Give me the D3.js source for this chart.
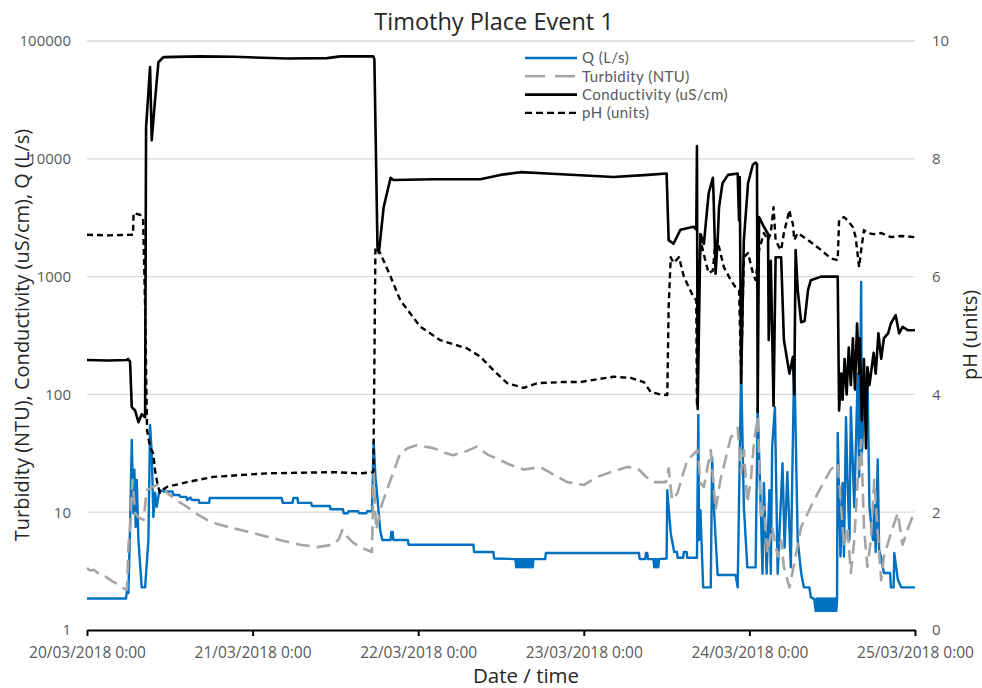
<!DOCTYPE html>
<html><head><meta charset="utf-8">
<script src="https://cdn.jsdelivr.net/npm/d3@7"></script>
<style>body{margin:0;background:#fff}svg text{font-family:"Open Sans",sans-serif}</style>
</head><body><svg id="c" width="982" height="688"></svg>
<script>
// ---------- data ----------
const dayHours = [0, 24, 48, 72, 96, 120];
const dayLabels = ["20/03/2018 0:00","21/03/2018 0:00","22/03/2018 0:00","23/03/2018 0:00","24/03/2018 0:00","25/03/2018 0:00"];
const leftTicks = [1, 10, 100, 1000, 10000, 100000];
const rightTicks = [0, 2, 4, 6, 8, 10];
const seriesNames = ["Q (L/s)", "Turbidity (NTU)", "Conductivity (uS/cm)", "pH (units)"];

// [hours since 20/03/2018 0:00, value]
const qData = [
[0,1.85],[5.66,1.85],[5.8,2.2],[6.0,2.06],[6.24,7.5],[6.49,41],[6.72,9.8],[6.87,23],[7.06,7.5],[7.21,18.8],[7.45,5.8],[7.93,2.3],[8.42,2.3],[8.9,5.8],[9.14,55],[9.38,31.8],[9.62,9.1],[9.87,14.6],[10.1,11.1],[10.5,15.4],[11.1,15],[12.4,15],[12.5,14],[13.4,14],[13.5,13.5],[14.4,13.5],[14.5,12.7],[15.0,13.3],[15.2,12.7],[16.2,12.7],[16.3,12],[17.7,12],[17.8,13.2],[28.2,13.2],[28.4,12],[29.8,12],[29.9,13.2],[30.5,13.2],[30.6,12],[32.5,12],[32.6,11.3],[35.2,11.3],[35.3,10.6],[37.1,10.6],[37.2,9.8],[37.8,9.8],[37.9,10.2],[39.3,10.2],[39.4,9.8],[40.5,9.8],[40.6,10.2],[41.3,10.2],[41.55,40],[41.8,20],[42.1,13],[42.5,7],[42.8,5.8],[44.0,5.8],[44.1,6.8],[44.3,6.8],[44.4,5.8],[46.5,5.8],[46.6,5.3],[56.0,5.3],[56.1,4.6],[58.9,4.6],[59.0,4.05],
[62.1,4.0],[62.2,3.4],[62.35,4.0],[62.5,3.4],[62.65,4.0],[62.8,3.4],[62.95,4.0],[63.1,3.4],[63.25,4.0],[63.4,3.4],[63.55,4.0],[63.7,3.4],[63.85,4.0],[64.0,3.4],[64.15,4.0],[64.3,3.4],[64.45,4.0],[64.6,3.4],[64.7,4.0],
[66.4,4.0],[66.5,4.5],[80.0,4.5],[80.1,4.0],[80.9,4.0],[81.0,4.5],[81.2,4.5],[81.3,4.0],
[82.1,4.0],[82.2,3.4],[82.35,4.0],[82.5,3.4],[82.65,4.0],[82.8,3.4],[82.9,4.0],
[84.0,4.05],[84.1,15.4],[84.6,6.6],[85.1,4.6],[85.5,4.6],[85.6,4.1],[86.0,4.1],[86.4,4.1],[86.5,4.6],[86.9,4.6],[87.0,4.1],[88.4,4.1],[88.6,67],[88.7,5.8],[88.9,10.4],[89.3,2.3],[90.4,2.3],[90.6,29],[90.9,9.85],[91.4,2.93],[94.0,2.93],[94.3,2.3],[94.8,161],[95.2,11],[95.7,3.4],[96.9,3.4],[97.2,78],[97.7,8.6],[97.9,3.0],[98.1,17.7],[98.5,3.0],[98.9,15.4],[99.1,3.0],[99.3,36],[99.7,78],[100.1,3.0],[100.8,26],[101.1,5],[101.5,22],[102.0,3.4],[102.5,208],[103.0,5.8],[103.5,3.05],[103.9,2.3],[104.7,2.3],[104.9,1.9],[105.4,1.83],
[105.6,1.45],[105.75,1.85],[105.9,1.45],[106.05,1.85],[106.2,1.45],[106.35,1.85],[106.5,1.45],[106.65,1.85],[106.8,1.45],[106.95,1.85],[107.1,1.45],[107.25,1.85],[107.4,1.45],[107.55,1.85],[107.7,1.45],[107.85,1.85],[108.0,1.45],[108.15,1.85],[108.3,1.45],[108.45,1.85],[108.6,1.45],[108.7,1.8],
[108.8,47],[109.2,4.2],[109.5,17.7],[109.7,4.2],[110.0,64],[110.2,20],[110.5,5.8],[110.7,78],[111.2,11],[111.7,150],[111.9,20],[112.2,900],[112.3,30],[112.6,78],[113.1,170],[113.4,11],[113.9,5.8],[114.1,11.5],[114.3,4.6],[114.6,28],[114.8,4.8],[115.1,4.1],[115.5,3.05],[116.4,3.05],[116.5,2.3],[116.9,2.3],[117.0,4.5],[117.5,2.7],[118.0,2.3],[120,2.3]
];

const turbData = [
[0,3.35],[0.5,3.2],[1.0,3.25],[1.9,2.93],[2.5,2.9],[3.2,2.7],[3.8,2.56],[4.5,2.45],[5.2,2.27],[5.8,2.2],[6.0,5.1],[6.24,7.5],[6.6,18.8],[6.97,9.8],[7.5,9.0],[8.2,8.6],[8.66,15.4],[9.6,16.4],[10.6,17.7],[11.6,14.6],[13.0,12.6],[14.5,11.1],[16.0,9.6],[17.4,8.6],[19.0,7.9],[21.2,7.3],[23.5,6.8],[26.1,6.2],[28.5,5.7],[30.9,5.3],[33.3,5.05],[35.7,5.3],[36.5,5.9],[37.0,7.06],[37.7,6.2],[38.6,5.5],[39.9,4.96],[41.3,4.6],[41.55,21.5],[41.9,7.06],[42.8,12],[44.0,18.8],[45.4,31.8],[46.5,35],[47.8,37],[50.2,35],[51.8,32],[53.1,30.5],[55.0,33],[56.5,36],[58.0,31],[59.9,27.6],[61.5,25],[63.3,23],[65.7,24.2],[67.5,21],[69.6,18],[72.0,17],[74.0,20],[76.0,22],[78.3,24.2],[79.8,23.6],[81.0,20],[82.2,18],[83.9,18],[84.3,23.6],[84.8,12.7],[85.6,14.6],[86.1,18.8],[87.0,27.6],[88.5,33.7],[88.9,17.7],[89.4,16.4],[90.4,33.7],[91.1,10.4],[91.8,18.8],[93.3,43],[94.3,52],[94.8,21.5],[95.2,33.7],[95.7,12],[96.2,18.8],[96.7,41],[97.2,64],[97.7,8.6],[98.1,11.1],[98.6,4.5],[99.3,7.5],[100.1,4.2],[100.6,5.8],[101.0,3.43],[101.8,2.3],[102.5,3.7],[103.5,7.5],[104.9,11.1],[106.4,16.4],[107.8,23],[108.8,26],[109.3,11.1],[109.7,5.1],[110.2,7.5],[110.7,3.05],[111.2,5.8],[111.7,18.8],[112.2,41],[112.6,7.5],[113.1,3.43],[113.6,5.8],[114.1,18.8],[114.6,6.6],[115.1,2.65],[115.5,4.2],[116.5,6.6],[117.5,9.85],[118.2,5.3],[118.9,7.06],[120,10.4]
];

const condData = [
[0,196],[3.0,194],[5.8,196],[5.95,200],[6.24,190],[6.49,78],[6.97,73],[7.45,58],[7.93,68],[8.42,64],[8.56,18600],[9.14,60000],[9.38,14400],[9.87,32000],[10.35,66000],[11.07,73000],[16.4,74000],[21.2,73500],[29.0,71000],[34.8,71500],[36.7,74000],[41.5,74000],[41.65,70000],[42.1,1780],[42.3,1590],[43.0,3900],[44.0,6900],[44.4,6600],[50.2,6700],[57.0,6700],[59.9,7300],[62.8,7700],[66.7,7500],[76.3,7000],[81.3,7300],[84.0,7500],[84.3,2040],[85.0,1900],[86.0,2500],[87.9,2650],[88.3,2500],[88.4,12800],[88.5,75],[88.9,2300],[89.4,1900],[90.1,5100],[90.7,6900],[90.8,5000],[91.1,1060],[91.4,2040],[91.6,3900],[92.1,6200],[92.9,7300],[94.3,7500],[94.5,3000],[94.6,7000],[94.8,125],[95.2,2040],[95.8,6200],[96.5,8900],[96.9,9300],[97.1,9000],[97.2,71],[97.4,3200],[98.1,2650],[98.7,2300],[98.8,290],[99.1,1360],[99.5,80],[99.8,1460],[100.3,1460],[100.6,1460],[101.0,290],[101.8,150],[102.3,208],[102.5,100],[102.7,1680],[103.0,770],[103.5,410],[104.0,420],[104.5,770],[104.9,930],[106.4,1000],[108.8,1000],[109.0,73],[109.3,150],[109.5,90],[109.8,200],[110.1,100],[110.4,250],[110.7,120],[111.0,300],[111.3,110],[111.6,400],[111.9,150],[112.0,300],[112.3,60],[112.6,200],[112.9,35],[113.1,170],[113.4,120],[114.0,225],[114.3,150],[114.7,330],[115.1,200],[115.5,300],[116.1,330],[116.5,400],[117.2,470],[117.7,330],[118.2,375],[119.0,350],[120,350]
];

const phData = [
[0,6.71],[3.0,6.7],[6.67,6.71],[6.75,7.08],[7.69,7.05],[8.13,7.0],[8.42,5.5],[8.7,3.4],[9.14,3.1],[9.6,3.0],[9.87,2.7],[10.3,2.43],[10.6,2.33],[11.0,2.38],[11.6,2.43],[14.5,2.51],[18.3,2.6],[26.1,2.66],[35.7,2.68],[39.6,2.66],[41.5,2.68],[41.65,4.5],[41.8,6.5],[42.5,6.4],[44.0,6.0],[45.4,5.6],[48.3,5.15],[51.2,4.92],[55.1,4.78],[57.0,4.64],[58.9,4.41],[60.9,4.19],[63.3,4.11],[65.3,4.19],[69.1,4.21],[71.5,4.21],[76.3,4.3],[78.8,4.28],[80.7,4.21],[81.7,4.04],[83.1,4.0],[84.1,3.99],[84.3,5.5],[84.6,6.33],[85.0,6.23],[85.8,6.33],[86.5,6.0],[87.9,5.65],[88.3,5.6],[88.4,3.8],[88.6,5.5],[88.9,6.62],[89.7,6.23],[90.1,6.06],[90.7,6.1],[91.1,6.62],[91.6,6.5],[92.3,6.16],[93.3,5.94],[94.0,5.82],[94.5,5.77],[94.8,4.36],[95.2,6.33],[95.8,6.4],[96.5,6.06],[96.9,5.94],[97.4,6.45],[98.1,6.74],[98.7,6.62],[99.1,6.74],[99.5,7.18],[99.8,6.62],[100.3,6.5],[100.6,6.45],[101.0,6.74],[101.8,7.13],[102.0,7.0],[102.3,6.9],[102.5,6.62],[103.0,6.74],[104.5,6.62],[106.4,6.45],[107.8,6.31],[108.8,6.28],[109.0,6.96],[109.7,7.01],[110.2,6.96],[111.0,6.84],[111.4,6.67],[111.9,6.16],[112.2,6.45],[112.6,6.79],[113.1,6.74],[114.0,6.72],[115.1,6.74],[116.5,6.67],[118.0,6.69],[120,6.67]
];

// ---------- chart ----------
const svg = d3.select('#c');
const L = 87, R = 915, T = 41, B = 630;
const x = d3.scaleLinear().domain([0, 120]).range([L, R]);
const yL = d3.scaleLog().domain([1, 100000]).range([B, T]);
const yR = d3.scaleLinear().domain([0, 10]).range([B, T]);
const txt = '#595959';

// gridlines
svg.append('g').selectAll('line').data(leftTicks.filter(d => d > 1)).join('line')
  .attr('x1', L).attr('x2', R).attr('y1', d => yL(d)).attr('y2', d => yL(d))
  .attr('stroke', '#d9d9d9').attr('stroke-width', 1.3);

// left axis labels
const gl = svg.append('g').attr('transform', `translate(${L},0)`)
  .call(d3.axisLeft(yL).tickValues(leftTicks).tickFormat(d3.format('d')).tickSize(0).tickPadding(16));
gl.select('.domain').remove();
gl.selectAll('text').attr('fill', txt).style('font-size', '15px');

// right axis labels
const gr = svg.append('g').attr('transform', `translate(${R},0)`)
  .call(d3.axisRight(yR).tickValues(rightTicks).tickSize(0).tickPadding(17));
gr.select('.domain').remove();
gr.selectAll('text').attr('fill', txt).style('font-size', '15px');

// lines
const lineL = d3.line().x(d => x(d[0])).y(d => yL(d[1]));
const lineR = d3.line().x(d => x(d[0])).y(d => yR(d[1]));
const styles = [
  {data: qData, gen: lineL, color: '#0070C0', w: 2.4, dash: null},
  {data: turbData, gen: lineL, color: '#A5A5A5', w: 2.6, dash: '14,7'},
  {data: condData, gen: lineL, color: '#000000', w: 2.6, dash: null},
  {data: phData, gen: lineR, color: '#000000', w: 2.4, dash: '6,4'}
];
styles.forEach(s => {
  svg.append('path').datum(s.data).attr('d', s.gen)
    .attr('fill', 'none').attr('stroke', s.color).attr('stroke-width', s.w)
    .attr('stroke-linejoin', 'round').attr('stroke-dasharray', s.dash);
});

// x axis
const gx = svg.append('g').attr('transform', `translate(0,${B})`)
  .call(d3.axisBottom(x).tickValues(dayHours).tickFormat((d, i) => dayLabels[i]).tickSizeInner(6).tickSizeOuter(0).tickPadding(11));
gx.select('.domain').attr('stroke', '#000').attr('stroke-width', 2);
gx.selectAll('.tick line').attr('stroke', '#000').attr('stroke-width', 2);
gx.selectAll('text').attr('fill', txt).style('font-size', '15.5px');

// titles
svg.append('text').attr('x', 494).attr('y', 30).attr('text-anchor', 'middle')
  .style('font-size', '23.5px').attr('fill', '#262626').text('Timothy Place Event 1');
svg.append('text').attr('x', 526).attr('y', 683).attr('text-anchor', 'middle')
  .style('font-size', '20.5px').attr('fill', '#262626').text('Date / time');
svg.append('text').attr('transform', 'translate(29,335) rotate(-90)').attr('text-anchor', 'middle')
  .style('font-size', '20px').attr('fill', '#262626').text('Turbidity (NTU), Conductivity (uS/cm), Q (L/s)');
svg.append('text').attr('transform', 'translate(977,335) rotate(-90)').attr('text-anchor', 'middle')
  .style('font-size', '20px').attr('fill', '#262626').text('pH (units)');

// legend
const lg = svg.append('g');
styles.forEach((s, i) => {
  const yy = 58 + i * 18.3;
  lg.append('line').attr('x1', 525).attr('x2', 577).attr('y1', yy).attr('y2', yy)
    .attr('stroke', s.color).attr('stroke-width', s.w)
    .attr('stroke-dasharray', i === 1 ? '20,10' : (i === 3 ? '7,4' : null));
  lg.append('text').attr('x', 582).attr('y', yy).attr('dy', '0.35em')
    .style('font-family', 'Lato, sans-serif').style('font-size', '15px')
    .style('letter-spacing', '0.45px').attr('fill', txt).text(seriesNames[i]);
});
</script></body></html>
